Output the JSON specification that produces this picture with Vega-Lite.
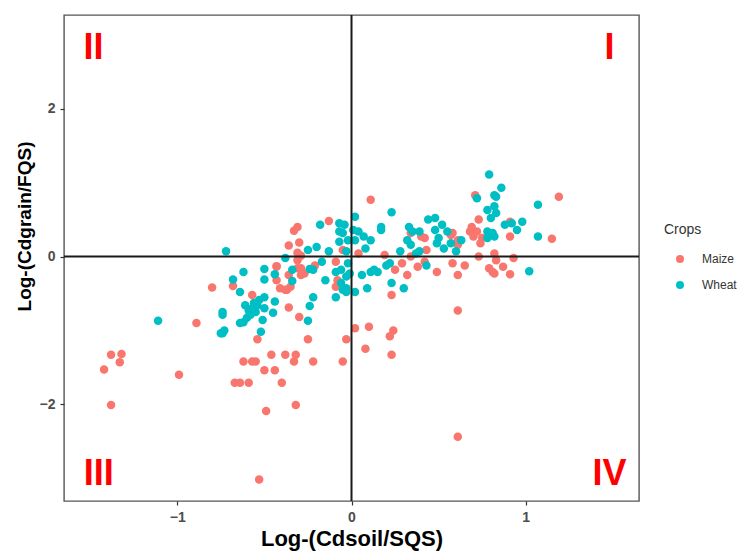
{
  "$schema": "https://vega.github.io/schema/vega-lite/v6.json",
  "width": 575,
  "height": 486,
  "autosize": {"type": "none"},
  "padding": {"left": 64, "top": 15, "right": 106, "bottom": 55},
  "background": "white",
  "config": {
    "font": "Liberation Sans",
    "view": {"stroke": "#555555", "strokeWidth": 1.4}
  },
  "datasets": {
    "quadrants": [
      {"label": "II", "x": -1.48, "y": 2.68},
      {"label": "I", "x": 1.48, "y": 2.68},
      {"label": "III", "x": -1.45, "y": -3.09},
      {"label": "IV", "x": 1.48, "y": -3.1}
    ]
  },
  "layer": [
    {
      "data": {
        "values": [
          {"Crops": "Maize", "x": -1.38, "y": -1.33}, {"Crops": "Maize", "x": -1.32, "y": -1.32}, {"Crops": "Maize", "x": -1.33, "y": -1.43}, {"Crops": "Maize", "x": -1.42, "y": -1.53},
          {"Crops": "Maize", "x": -1.38, "y": -2.01}, {"Crops": "Maize", "x": -0.99, "y": -1.6}, {"Crops": "Maize", "x": -0.89, "y": -0.9}, {"Crops": "Maize", "x": -0.8, "y": -0.42},
          {"Crops": "Maize", "x": -0.68, "y": -0.4}, {"Crops": "Maize", "x": -0.57, "y": -0.52}, {"Crops": "Maize", "x": -0.54, "y": -1.12}, {"Crops": "Maize", "x": -0.62, "y": -1.42},
          {"Crops": "Maize", "x": -0.57, "y": -1.42}, {"Crops": "Maize", "x": -0.55, "y": -1.42}, {"Crops": "Maize", "x": -0.46, "y": -1.33}, {"Crops": "Maize", "x": -0.38, "y": -1.33},
          {"Crops": "Maize", "x": -0.32, "y": -1.33}, {"Crops": "Maize", "x": -0.33, "y": -1.42}, {"Crops": "Maize", "x": -0.22, "y": -1.42}, {"Crops": "Maize", "x": -0.05, "y": -1.42},
          {"Crops": "Maize", "x": -0.03, "y": -1.12}, {"Crops": "Maize", "x": 0.02, "y": -0.97}, {"Crops": "Maize", "x": -0.5, "y": -1.54}, {"Crops": "Maize", "x": -0.44, "y": -1.54},
          {"Crops": "Maize", "x": -0.67, "y": -1.71}, {"Crops": "Maize", "x": -0.64, "y": -1.71}, {"Crops": "Maize", "x": -0.59, "y": -1.71}, {"Crops": "Maize", "x": -0.4, "y": -1.71},
          {"Crops": "Maize", "x": -0.49, "y": -2.09}, {"Crops": "Maize", "x": -0.32, "y": -2.01}, {"Crops": "Maize", "x": -0.53, "y": -3.02}, {"Crops": "Maize", "x": -0.36, "y": -0.69},
          {"Crops": "Maize", "x": -0.3, "y": -0.82}, {"Crops": "Maize", "x": -0.25, "y": -1.12}, {"Crops": "Maize", "x": -0.43, "y": -0.13}, {"Crops": "Maize", "x": -0.43, "y": -0.32},
          {"Crops": "Maize", "x": -0.37, "y": -0.45}, {"Crops": "Maize", "x": -0.35, "y": -0.41}, {"Crops": "Maize", "x": -0.31, "y": -0.16}, {"Crops": "Maize", "x": -0.29, "y": -0.25},
          {"Crops": "Maize", "x": -0.27, "y": -0.23}, {"Crops": "Maize", "x": -0.29, "y": -0.16}, {"Crops": "Maize", "x": -0.21, "y": -0.12}, {"Crops": "Maize", "x": -0.29, "y": 0.01},
          {"Crops": "Maize", "x": -0.31, "y": 0.05}, {"Crops": "Maize", "x": -0.31, "y": -0.05}, {"Crops": "Maize", "x": -0.08, "y": -0.32}, {"Crops": "Maize", "x": -0.09, "y": -0.41},
          {"Crops": "Maize", "x": -0.43, "y": -0.14}, {"Crops": "Maize", "x": -0.41, "y": -0.43}, {"Crops": "Maize", "x": -0.38, "y": -0.45}, {"Crops": "Maize", "x": -0.36, "y": -0.25},
          {"Crops": "Maize", "x": -0.31, "y": 0.4}, {"Crops": "Maize", "x": -0.33, "y": 0.35}, {"Crops": "Maize", "x": -0.36, "y": 0.15}, {"Crops": "Maize", "x": -0.3, "y": 0.19},
          {"Crops": "Maize", "x": -0.13, "y": 0.48}, {"Crops": "Maize", "x": -0.05, "y": 0.09}, {"Crops": "Maize", "x": -0.09, "y": -0.07}, {"Crops": "Maize", "x": 0.11, "y": 0.77},
          {"Crops": "Maize", "x": 0.34, "y": 0.32}, {"Crops": "Maize", "x": 0.4, "y": 0.27}, {"Crops": "Maize", "x": 0.42, "y": 0.25}, {"Crops": "Maize", "x": 0.58, "y": 0.32},
          {"Crops": "Maize", "x": 0.61, "y": 0.16}, {"Crops": "Maize", "x": 0.43, "y": 0.09}, {"Crops": "Maize", "x": 0.34, "y": 0.0}, {"Crops": "Maize", "x": 0.42, "y": -0.07},
          {"Crops": "Maize", "x": 0.19, "y": 0.02}, {"Crops": "Maize", "x": 0.29, "y": -0.09}, {"Crops": "Maize", "x": 0.38, "y": -0.14}, {"Crops": "Maize", "x": 0.25, "y": -0.18},
          {"Crops": "Maize", "x": 0.32, "y": -0.25}, {"Crops": "Maize", "x": 0.49, "y": -0.21}, {"Crops": "Maize", "x": 0.58, "y": -0.09}, {"Crops": "Maize", "x": 0.65, "y": -0.12},
          {"Crops": "Maize", "x": 0.61, "y": -0.25}, {"Crops": "Maize", "x": 0.68, "y": 0.34}, {"Crops": "Maize", "x": 0.72, "y": 0.34}, {"Crops": "Maize", "x": 0.69, "y": 0.4},
          {"Crops": "Maize", "x": 0.73, "y": 0.5}, {"Crops": "Maize", "x": 0.74, "y": 0.18}, {"Crops": "Maize", "x": 0.73, "y": 0.0}, {"Crops": "Maize", "x": 0.82, "y": 0.04},
          {"Crops": "Maize", "x": 0.79, "y": -0.16}, {"Crops": "Maize", "x": 0.81, "y": -0.21}, {"Crops": "Maize", "x": 0.83, "y": -0.05}, {"Crops": "Maize", "x": 0.23, "y": -0.52},
          {"Crops": "Maize", "x": 0.61, "y": -0.73}, {"Crops": "Maize", "x": 0.1, "y": -0.95}, {"Crops": "Maize", "x": 0.24, "y": -1.0}, {"Crops": "Maize", "x": 0.04, "y": 0.04},
          {"Crops": "Maize", "x": 0.08, "y": -1.25}, {"Crops": "Maize", "x": 0.22, "y": -1.08}, {"Crops": "Maize", "x": 0.23, "y": -1.33}, {"Crops": "Maize", "x": 0.61, "y": -2.44},
          {"Crops": "Maize", "x": 0.87, "y": -0.14}, {"Crops": "Maize", "x": 0.91, "y": -0.24}, {"Crops": "Maize", "x": 0.93, "y": -0.02}, {"Crops": "Maize", "x": 0.71, "y": 0.83},
          {"Crops": "Maize", "x": 1.19, "y": 0.81}, {"Crops": "Maize", "x": 0.91, "y": 0.47}, {"Crops": "Maize", "x": 0.7, "y": 0.27}, {"Crops": "Maize", "x": 0.75, "y": 0.25},
          {"Crops": "Maize", "x": 0.61, "y": 0.22}, {"Crops": "Maize", "x": 0.91, "y": 0.27}, {"Crops": "Maize", "x": 1.15, "y": 0.24}, {"Crops": "Maize", "x": 0.57, "y": 0.29},
          {"Crops": "Maize", "x": 0.82, "y": -0.23},

          {"Crops": "Wheat", "x": -1.11, "y": -0.87}, {"Crops": "Wheat", "x": -0.74, "y": -1.04}, {"Crops": "Wheat", "x": -0.75, "y": -1.04}, {"Crops": "Wheat", "x": -0.73, "y": -1.0},
          {"Crops": "Wheat", "x": -0.74, "y": -0.75}, {"Crops": "Wheat", "x": -0.74, "y": -0.79}, {"Crops": "Wheat", "x": -0.64, "y": -0.9}, {"Crops": "Wheat", "x": -0.61, "y": -0.66},
          {"Crops": "Wheat", "x": -0.59, "y": -0.73}, {"Crops": "Wheat", "x": -0.57, "y": -0.7}, {"Crops": "Wheat", "x": -0.58, "y": -0.79}, {"Crops": "Wheat", "x": -0.55, "y": -0.75},
          {"Crops": "Wheat", "x": -0.6, "y": -0.83}, {"Crops": "Wheat", "x": -0.62, "y": -0.89}, {"Crops": "Wheat", "x": -0.54, "y": -0.66}, {"Crops": "Wheat", "x": -0.56, "y": -0.63},
          {"Crops": "Wheat", "x": -0.53, "y": -0.59}, {"Crops": "Wheat", "x": -0.52, "y": -1.02}, {"Crops": "Wheat", "x": -0.51, "y": -0.86}, {"Crops": "Wheat", "x": -0.45, "y": -0.76},
          {"Crops": "Wheat", "x": -0.44, "y": -0.61}, {"Crops": "Wheat", "x": -0.5, "y": -0.55}, {"Crops": "Wheat", "x": -0.24, "y": -0.67}, {"Crops": "Wheat", "x": -0.22, "y": -0.55},
          {"Crops": "Wheat", "x": -0.25, "y": -0.87}, {"Crops": "Wheat", "x": -0.09, "y": -0.55}, {"Crops": "Wheat", "x": -0.64, "y": -0.48}, {"Crops": "Wheat", "x": -0.62, "y": -0.21},
          {"Crops": "Wheat", "x": -0.68, "y": -0.31}, {"Crops": "Wheat", "x": -0.5, "y": -0.17}, {"Crops": "Wheat", "x": -0.5, "y": -0.31}, {"Crops": "Wheat", "x": -0.44, "y": -0.24},
          {"Crops": "Wheat", "x": -0.34, "y": -0.33}, {"Crops": "Wheat", "x": -0.24, "y": -0.17}, {"Crops": "Wheat", "x": -0.15, "y": -0.32}, {"Crops": "Wheat", "x": -0.03, "y": -0.48},
          {"Crops": "Wheat", "x": 0.02, "y": -0.48}, {"Crops": "Wheat", "x": -0.06, "y": -0.36}, {"Crops": "Wheat", "x": -0.09, "y": -0.21}, {"Crops": "Wheat", "x": -0.03, "y": -0.27},
          {"Crops": "Wheat", "x": -0.02, "y": -0.09}, {"Crops": "Wheat", "x": -0.72, "y": 0.07}, {"Crops": "Wheat", "x": -0.38, "y": -0.02}, {"Crops": "Wheat", "x": -0.34, "y": -0.18},
          {"Crops": "Wheat", "x": -0.25, "y": 0.09}, {"Crops": "Wheat", "x": -0.2, "y": 0.13}, {"Crops": "Wheat", "x": -0.18, "y": 0.43}, {"Crops": "Wheat", "x": -0.22, "y": -0.18},
          {"Crops": "Wheat", "x": -0.17, "y": -0.07}, {"Crops": "Wheat", "x": -0.13, "y": 0.07}, {"Crops": "Wheat", "x": -0.07, "y": 0.45}, {"Crops": "Wheat", "x": -0.05, "y": 0.32},
          {"Crops": "Wheat", "x": -0.07, "y": 0.2}, {"Crops": "Wheat", "x": 0.02, "y": 0.54}, {"Crops": "Wheat", "x": 0.01, "y": 0.36}, {"Crops": "Wheat", "x": -0.02, "y": 0.22},
          {"Crops": "Wheat", "x": -0.03, "y": 0.07}, {"Crops": "Wheat", "x": -0.06, "y": -0.18}, {"Crops": "Wheat", "x": -0.03, "y": -0.43}, {"Crops": "Wheat", "x": -0.5, "y": -0.7},
          {"Crops": "Wheat", "x": 0.23, "y": 0.6}, {"Crops": "Wheat", "x": -0.04, "y": 0.43}, {"Crops": "Wheat", "x": 0.04, "y": 0.34}, {"Crops": "Wheat", "x": 0.02, "y": 0.22},
          {"Crops": "Wheat", "x": 0.07, "y": 0.27}, {"Crops": "Wheat", "x": 0.11, "y": 0.22}, {"Crops": "Wheat", "x": 0.08, "y": 0.11}, {"Crops": "Wheat", "x": 0.17, "y": 0.4},
          {"Crops": "Wheat", "x": 0.17, "y": 0.36}, {"Crops": "Wheat", "x": 0.33, "y": 0.4}, {"Crops": "Wheat", "x": 0.35, "y": 0.34}, {"Crops": "Wheat", "x": 0.39, "y": 0.34},
          {"Crops": "Wheat", "x": 0.44, "y": 0.5}, {"Crops": "Wheat", "x": 0.48, "y": 0.52}, {"Crops": "Wheat", "x": 0.52, "y": 0.43}, {"Crops": "Wheat", "x": 0.5, "y": 0.25},
          {"Crops": "Wheat", "x": 0.48, "y": 0.36}, {"Crops": "Wheat", "x": 0.55, "y": 0.34}, {"Crops": "Wheat", "x": 0.49, "y": 0.18}, {"Crops": "Wheat", "x": 0.53, "y": 0.11},
          {"Crops": "Wheat", "x": 0.57, "y": 0.18}, {"Crops": "Wheat", "x": 0.6, "y": 0.07}, {"Crops": "Wheat", "x": 0.63, "y": 0.22}, {"Crops": "Wheat", "x": 0.32, "y": 0.22},
          {"Crops": "Wheat", "x": 0.34, "y": 0.16}, {"Crops": "Wheat", "x": 0.28, "y": 0.07}, {"Crops": "Wheat", "x": 0.37, "y": 0.04}, {"Crops": "Wheat", "x": 0.39, "y": 0.07},
          {"Crops": "Wheat", "x": 0.22, "y": -0.09}, {"Crops": "Wheat", "x": 0.2, "y": -0.12}, {"Crops": "Wheat", "x": 0.43, "y": -0.12}, {"Crops": "Wheat", "x": 0.13, "y": -0.18},
          {"Crops": "Wheat", "x": 0.11, "y": -0.21}, {"Crops": "Wheat", "x": 0.15, "y": -0.21}, {"Crops": "Wheat", "x": 0.06, "y": -0.25}, {"Crops": "Wheat", "x": 0.09, "y": -0.43},
          {"Crops": "Wheat", "x": -0.05, "y": -0.45}, {"Crops": "Wheat", "x": 0.23, "y": -0.36}, {"Crops": "Wheat", "x": 0.3, "y": -0.43}, {"Crops": "Wheat", "x": -0.01, "y": -0.23},
          {"Crops": "Wheat", "x": -0.07, "y": 0.34}, {"Crops": "Wheat", "x": 0.78, "y": 0.63}, {"Crops": "Wheat", "x": 0.8, "y": 0.52}, {"Crops": "Wheat", "x": 0.83, "y": 0.59},
          {"Crops": "Wheat", "x": 0.78, "y": 0.34}, {"Crops": "Wheat", "x": 0.82, "y": 0.27}, {"Crops": "Wheat", "x": 0.72, "y": 0.79}, {"Crops": "Wheat", "x": 0.82, "y": 0.68},
          {"Crops": "Wheat", "x": 1.02, "y": -0.2}, {"Crops": "Wheat", "x": 0.79, "y": 1.11}, {"Crops": "Wheat", "x": 0.86, "y": 0.93}, {"Crops": "Wheat", "x": 0.82, "y": 0.83},
          {"Crops": "Wheat", "x": 0.83, "y": 0.81}, {"Crops": "Wheat", "x": 1.07, "y": 0.7}, {"Crops": "Wheat", "x": 0.88, "y": 0.43}, {"Crops": "Wheat", "x": 0.92, "y": 0.45},
          {"Crops": "Wheat", "x": 0.98, "y": 0.47}, {"Crops": "Wheat", "x": 0.95, "y": 0.36}, {"Crops": "Wheat", "x": 0.81, "y": 0.32}, {"Crops": "Wheat", "x": 0.78, "y": 0.25},
          {"Crops": "Wheat", "x": 1.07, "y": 0.27}
        ]
      },
      "mark": {"type": "circle", "size": 72, "opacity": 1},
      "encoding": {
        "x": {
          "field": "x",
          "type": "quantitative",
          "scale": {"domain": [-1.65, 1.65], "nice": false, "zero": false},
          "axis": {
            "values": [-1, 0, 1],
            "format": "d",
            "title": "Log-(Cdsoil/SQS)",
            "grid": false,
            "domain": false,
            "tickColor": "#333333",
            "tickSize": 4,
            "tickWidth": 1.2,
            "labelFontSize": 14,
            "labelFontWeight": "bold",
            "labelColor": "#4d4d4d",
            "labelPadding": 5,
            "titleFontSize": 22,
            "titleFontWeight": "bold",
            "titleColor": "#000000",
            "titlePadding": 4
          }
        },
        "y": {
          "field": "y",
          "type": "quantitative",
          "scale": {"domain": [-3.31, 3.27], "nice": false, "zero": false},
          "axis": {
            "values": [-2, 0, 2],
            "format": "d",
            "title": "Log-(Cdgrain/FQS)",
            "grid": false,
            "domain": false,
            "tickColor": "#333333",
            "tickSize": 4,
            "tickWidth": 1.2,
            "labelFontSize": 14,
            "labelFontWeight": "bold",
            "labelColor": "#4d4d4d",
            "labelPadding": 5,
            "titleFontSize": 19,
            "titleFontWeight": "bold",
            "titleColor": "#000000",
            "titleAngle": 270,
            "titleAlign": "center",
            "titleBaseline": "middle",
            "titleX": -40,
            "titleY": 211
          }
        },
        "color": {
          "field": "Crops",
          "type": "nominal",
          "scale": {"domain": ["Maize", "Wheat"], "range": ["#F8766D", "#00BFC4"]},
          "legend": {
            "orient": "none",
            "legendX": 600,
            "legendY": 208,
            "title": "Crops",
            "titleFontSize": 14,
            "titleFontWeight": "normal",
            "titleColor": "#333333",
            "titlePadding": 16,
            "labelFontSize": 12,
            "labelColor": "#333333",
            "labelOffset": 16,
            "symbolType": "circle",
            "symbolSize": 64,
            "symbolOffset": 10,
            "symbolStrokeWidth": 0,
            "rowPadding": 14
          }
        }
      }
    },
    {
      "data": {"values": [{}]},
      "mark": {"type": "rule", "color": "#1a1a1a", "strokeWidth": 2},
      "encoding": {"x": {"datum": 0}}
    },
    {
      "data": {"values": [{}]},
      "mark": {"type": "rule", "color": "#1a1a1a", "strokeWidth": 2},
      "encoding": {"y": {"datum": 0}}
    },
    {
      "data": {"name": "quadrants"},
      "mark": {"type": "text", "color": "#ff0000", "fontSize": 36, "fontWeight": "bold", "align": "center", "baseline": "alphabetic"},
      "encoding": {
        "x": {"field": "x", "type": "quantitative"},
        "y": {"field": "y", "type": "quantitative"},
        "text": {"field": "label"}
      }
    }
  ]
}
